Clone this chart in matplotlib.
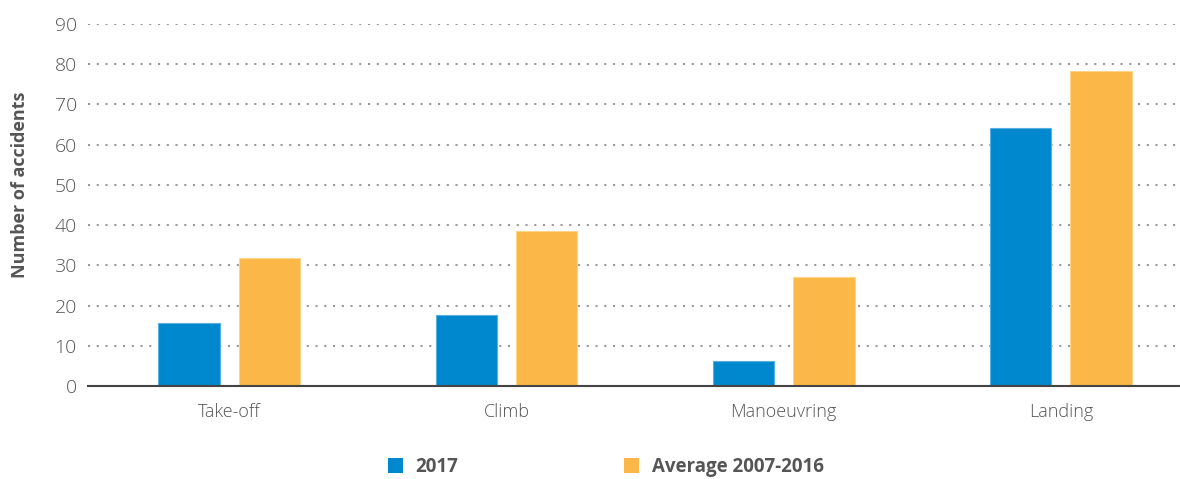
import numpy as np
import matplotlib.pyplot as plt
from matplotlib.patches import Patch

# data
phases = ["Take-off", "Climb", "Manoeuvring", "Landing"]
acc_2017 = [15.6, 17.7, 6.2, 64.1]
acc_avg = [31.8, 38.5, 27.0, 78.2]
series_names = ["2017", "Average 2007-2016"]
yticks = [0, 10, 20, 30, 40, 50, 60, 70, 80, 90]

blue = "#0088CE"
orange = "#FBB848"
txt = "#555555"

plt.rcParams["font.family"] = ["Open Sans", "DejaVu Sans"]

fig = plt.figure(figsize=(11.8, 4.79), dpi=100)
ax = fig.add_axes([88 / 1180, 1 - 386 / 479, 1 - 88 / 1180, (386 - 24) / 479])

x = np.arange(len(phases))
w = 0.222
off = 0.145
ax.bar(x - off, acc_2017, w, color=blue, edgecolor="#5AAFE0", linewidth=0.8, zorder=3)
ax.bar(x + off, acc_avg, w, color=orange, edgecolor="#FDD68A", linewidth=0.8, zorder=3)

ax.set_xlim(-0.51, 3.43)
ax.set_ylim(0, 90)
ax.set_yticks(yticks)
ax.set_xticks(x)
ax.set_xticklabels(phases)
ax.yaxis.grid(True, linestyle=(0, (1, 3.2)), color="#9a9a9a", linewidth=1.5, zorder=0)
ax.xaxis.grid(False)

for s in ["top", "right", "left"]:
    ax.spines[s].set_visible(False)
ax.spines["bottom"].set_color("#444444")
ax.spines["bottom"].set_linewidth(1.5)
ax.spines["bottom"].set_zorder(4)

ax.tick_params(axis="y", length=0, pad=8, labelsize=14, labelcolor=txt)
ax.tick_params(axis="x", length=0, pad=12, labelsize=13, labelcolor=txt)
for lab in ax.get_yticklabels() + ax.get_xticklabels():
    lab.set_fontweight("light")

fig.text(20 / 1180, 1 - 185 / 479, "Number of accidents", rotation=90, ha="center",
         va="center", fontsize=13, fontweight="bold", color=txt)

handles = [Patch(facecolor=blue), Patch(facecolor=orange)]
leg = fig.legend(handles, series_names, loc="center", bbox_to_anchor=(606 / 1180, 1 - 467 / 479),
                 ncol=2, frameon=False, handlelength=0.8, handleheight=0.8,
                 handletextpad=0.65, columnspacing=8.85, prop={"size": 13.5, "weight": "bold"})
for t in leg.get_texts():
    t.set_color(txt)

fig.savefig("out.png", dpi=100, facecolor="white")
